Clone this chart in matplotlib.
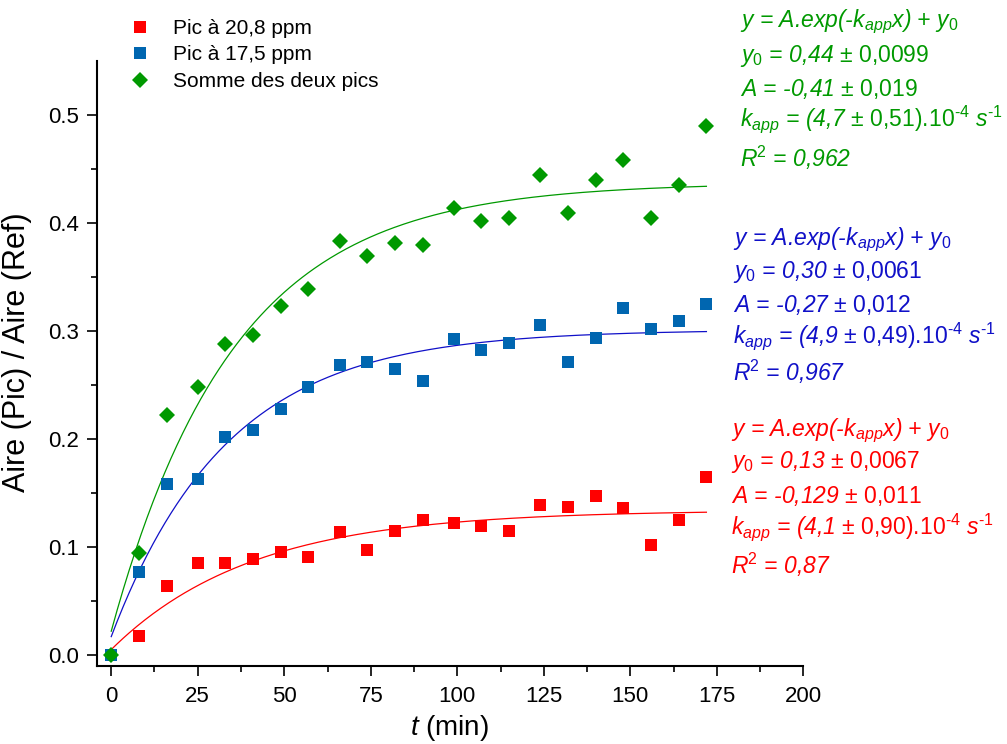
import matplotlib.pyplot as plt
from matplotlib.ticker import FixedLocator
import numpy as np

plt.rcParams['font.family'] = ['Liberation Sans', 'DejaVu Sans']
plt.rcParams['mathtext.fontset'] = 'custom'
plt.rcParams['mathtext.rm'] = 'Liberation Sans'
plt.rcParams['mathtext.it'] = 'Liberation Sans:italic'
plt.rcParams['mathtext.bf'] = 'Liberation Sans:bold'

# temps (min)
t = [0, 8, 16, 25, 33, 41, 49, 57, 66, 74, 82, 90, 99, 107, 115, 124, 132, 140, 148, 156, 164, 172]
# Aire(Pic)/Aire(Ref)
pic_208 = [0.000, 0.018, 0.064, 0.085, 0.085, 0.089, 0.095, 0.091, 0.114, 0.097, 0.115,
           0.125, 0.122, 0.119, 0.115, 0.139, 0.137, 0.147, 0.136, 0.102, 0.125, 0.165]
pic_175 = [0.000, 0.077, 0.158, 0.163, 0.202, 0.208, 0.228, 0.248, 0.268, 0.271, 0.265,
           0.254, 0.292, 0.282, 0.289, 0.305, 0.271, 0.293, 0.321, 0.302, 0.309, 0.325]
somme = [0.000, 0.094, 0.222, 0.248, 0.288, 0.296, 0.323, 0.339, 0.383, 0.369, 0.381,
         0.379, 0.414, 0.402, 0.404, 0.444, 0.409, 0.440, 0.458, 0.404, 0.435, 0.490]

# parametres des ajustements y = A.exp(-k t) + y0  (k en min-1)
fit_208 = (0.134, -0.129, 0.0246)
fit_175 = (0.301, -0.284, 0.0298)
fit_somme = (0.437, -0.415, 0.0282)

# textes des resultats d'ajustement : y0, dy0, A, dA, k, dk, R2
txt_208 = ['0,13', '0,0067', '-0,129', '0,011', '4,1', '0,90', '0,87']
txt_175 = ['0,30', '0,0061', '-0,27', '0,012', '4,9', '0,49', '0,967']
txt_somme = ['0,44', '0,0099', '-0,41', '0,019', '4,7', '0,51', '0,962']

red = '#FF0000'
blue_pt = '#0066B0'
blue = '#1010C8'
green = '#009900'

W, H = 1007, 744
fig = plt.figure(figsize=(W / 100, H / 100), dpi=100)
ax = fig.add_axes([96.7 / W, 1 - 666 / H, (803.3 - 96.7) / W, (666 - 60.7) / H])

tf = np.linspace(0, 172, 300)
for (y0, A, k), c in [(fit_208, red), (fit_175, blue), (fit_somme, green)]:
    ax.plot(tf, y0 + A * np.exp(-k * tf), color=c, lw=0.9, zorder=2)

ax.plot(t, pic_208, 's', color=red, ms=8.7, mew=0, ls='none', zorder=3, label='Pic à 20,8 ppm')
ax.plot(t, pic_175, 's', color=blue_pt, ms=8.7, mew=0, ls='none', zorder=4, label='Pic à 17,5 ppm')
ax.plot(t, somme, 'D', color=green, ms=8.4, mew=0, ls='none', zorder=5, label='Somme des deux pics')

ax.set_xlim(-4.2, 200)
ax.set_ylim(-0.0102, 0.55)
ax.set_xticks(range(0, 201, 25))
ax.set_yticks([0, 0.1, 0.2, 0.3, 0.4, 0.5])
ax.set_yticklabels(['0.0', '0.1', '0.2', '0.3', '0.4', '0.5'])
ax.xaxis.set_minor_locator(FixedLocator(np.arange(12.5, 200, 25)))
ax.yaxis.set_minor_locator(FixedLocator(np.arange(0.05, 0.5, 0.1)))
ax.tick_params(which='major', direction='out', length=7.5, width=1.2, labelsize=16)
ax.tick_params(axis='x', which='major', pad=7)
ax.tick_params(axis='y', which='major', pad=5)
ax.tick_params(which='minor', direction='out', length=4, width=1.2)
for s in ['top', 'right']:
    ax.spines[s].set_visible(False)
for s in ['left', 'bottom']:
    ax.spines[s].set_linewidth(1.5)

ax.set_xlabel(r'$\mathit{t}$ (min)', fontsize=20)
ax.set_ylabel('Aire (Pic) / Aire (Ref)', fontsize=22)
ax.xaxis.set_label_coords(0.5, -0.077)
ax.yaxis.set_label_coords(-0.092, 0.518)

ax.legend(loc='upper left', bbox_to_anchor=(129.6 / W, 1 - 19 / H), bbox_transform=fig.transFigure,
          frameon=False, fontsize=15, handlelength=1.0, handletextpad=1.1, labelspacing=0.36,
          borderpad=0, borderaxespad=0, numpoints=1)


def m(s):
    return s.replace(',', '{,}')


def eq_lines(v):
    y0, dy0, A, dA, k, dk, r2 = v
    return [r'y = A.exp(-k$_{app}$x) + y$_{\mathit{0}}$',
            r'y$_{\mathit{0}}$ = ' + y0 + r' $\mathrm{\pm\ ' + m(dy0) + '}$',
            'A = ' + A + r' $\mathrm{\pm\ ' + m(dA) + '}$',
            r'k$_{app}$ = (' + k + r' $\mathrm{\pm\ ' + m(dk) + r').\!10^{\text{-4}}}$ s$^{\text{-1}}$',
            r'R$^{\mathit{2}}$ = ' + r2]


blocks = [(txt_somme, green, 740, [27, 62, 96, 126, 167]),
          (txt_175, blue, 733, [245, 278, 312, 343, 381]),
          (txt_208, red, 731, [436, 468, 503, 534, 574])]
for v, c, x0, ys in blocks:
    for line, yb in zip(eq_lines(v), ys):
        fig.text(x0 / W, 1 - yb / H, line, color=c, fontsize=16.5, style='italic', va='baseline', ha='left')

fig.savefig('out.png', dpi=100)
